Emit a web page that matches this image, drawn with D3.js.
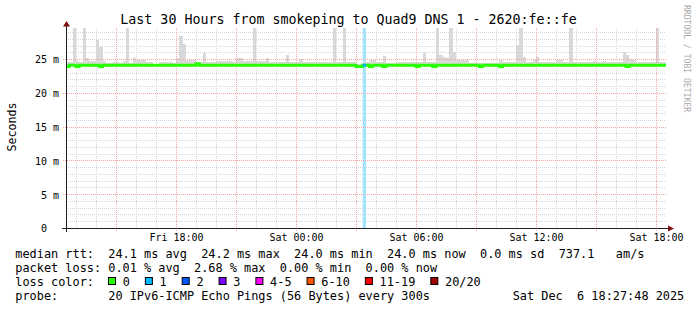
<!DOCTYPE html>
<html><head><meta charset="utf-8">
<script src="https://cdn.jsdelivr.net/npm/d3@7/dist/d3.min.js"></script>
<style>
html,body{margin:0;padding:0;background:#fff;}
svg{display:block;}
text{font-family:"DejaVu Sans Mono",monospace;white-space:pre;fill:#000;}
</style></head><body>
<svg id="chart" width="697" height="310"></svg>
<script>
// ---------- data ----------
const title = "Last 30 Hours from smokeping to Quad9 DNS 1 - 2620:fe::fe";
const yAxisTitle = "Seconds";
const watermark = "RRDTOOL / TOBI OETIKER";
const startUTC = [2025, 11, 5, 12, 30];   // Fri Dec 5 12:30
const endUTC   = [2025, 11, 6, 18, 30];   // Sat Dec 6 18:30
const stepMinutes = 10;
const yMaxMs = 29.6;
const yTickValues = [0, 5, 10, 15, 20, 25];
const yTickLabels = ["0  ", "5 m", "10 m", "15 m", "20 m", "25 m"];

// highest ping of each 10-minute step (ms); 30 = beyond the top of the graph
const smokeMax = [
  24.6,24.6,30,24.7,24.6,30,25.1,24.7,24.7,27.8,26.8,24.7,24.4,24.4,24.6,24.6,24.4,24.7,
  30,24.4,25.2,24.8,24.8,24.8,24.6,24.6,24.3,24.3,24.5,24.5,24.5,24.5,24.4,25.2,28.4,27.3,
  24.8,24.8,24.8,24.6,24.6,25.9,24.6,24.6,24.6,24.7,24.7,24.7,24.7,24.7,24.5,25.2,25.2,24.7,
  24.7,24.7,30,24.7,24.7,24.7,25.1,24.6,24.6,24.6,24.6,24.6,25.6,24.5,24.5,24.5,25.0,24.6,
  24.6,24.6,24.6,24.5,24.5,24.5,24.5,24.6,30,24.6,24.6,30,24.5,24.5,24.5,24.3,24.3,24.6,
  24.6,24.8,24.8,24.5,24.5,25.4,24.4,24.4,24.4,24.6,24.6,24.6,24.6,24.6,24.6,24.5,24.5,25.9,
  24.6,24.6,24.6,30,25.6,25.3,25.1,30,26.1,24.8,24.8,24.8,24.8,24.4,24.4,24.4,24.4,24.4,
  24.4,24.4,24.4,24.4,24.8,24.5,24.5,24.5,24.5,27.1,30,25.3,24.6,24.6,24.8,25.3,24.5,24.5,
  24.5,24.5,24.5,24.9,24.9,24.5,24.5,30,24.6,24.6,24.6,24.6,24.6,24.6,24.7,24.5,24.5,24.7,
  24.5,24.5,24.5,24.5,24.5,26.0,25.6,25.0,24.9,24.5,24.5,24.5,24.5,24.5,24.5,30,24.6,24.6
];
// median rtt of each 10-minute step (ms)
const median = [
  23.9,24.1,24.1,23.9,24.1,24.1,24.1,24.1,24.1,24.1,23.9,24.1,24.1,24.1,24.1,24.1,24.1,24.1,
  24.1,24.1,24.1,24.1,24.1,24.1,24.1,24.1,24.1,24.1,24.1,24.1,24.1,24.1,24.1,24.1,24.1,24.1,
  24.1,24.1,24.1,24.3,24.1,24.1,24.1,24.1,24.1,24.1,24.1,24.1,24.1,24.1,24.1,24.1,24.1,24.1,
  24.1,24.1,24.1,24.1,24.1,24.1,24.1,24.1,24.1,24.1,24.1,24.1,24.1,24.1,24.1,24.1,24.1,24.1,
  24.1,24.1,24.1,24.1,24.1,24.1,24.1,24.1,24.1,24.1,24.1,24.1,24.1,24.1,24.1,23.9,23.9,24.1,
  24.1,23.9,24.1,24.1,24.1,23.9,24.1,24.1,24.1,24.1,24.1,24.1,24.1,24.1,24.1,23.9,24.1,24.1,
  24.1,24.1,23.9,24.1,24.1,24.1,24.1,24.1,24.1,24.1,24.1,24.1,24.1,24.1,24.1,24.1,23.9,24.1,
  24.1,24.1,24.1,24.1,23.9,24.1,24.1,24.1,24.1,24.1,24.1,24.1,24.1,24.1,24.1,24.1,24.1,24.1,
  24.1,24.1,24.1,24.1,24.1,24.1,24.1,24.1,24.1,24.1,24.1,24.1,24.1,24.1,24.1,24.1,24.1,24.1,
  24.1,24.1,24.1,24.1,24.1,24.1,23.9,24.1,24.1,24.1,24.1,24.1,24.1,24.1,24.1,24.1,24.1,24.1
];
// steps with lost pings (step index, pings lost out of 20)
const lossSteps = [89];
const lossCounts = [1];

const lossLabels = ["0", "1", "2", "3", "4-5", "6-10", "11-19", "20/20"];
const lossUpper  = [0, 1, 2, 3, 5, 10, 19, 20];
const lossColors = ["#26ff00", "#00b8ff", "#0059ff", "#7e00ff", "#ff00ff", "#ff5500", "#ff0000", "#a10000"];

const legendLine1 = "median rtt:  24.1 ms avg  24.2 ms max  24.0 ms min  24.0 ms now  0.0 ms sd  737.1   am/s";
const legendLine2 = "packet loss: 0.01 % avg  2.68 % max  0.00 % min  0.00 % now";
const legendLine3 = "loss color:";
const legendLine4 = "probe:       20 IPv6-ICMP Echo Pings (56 Bytes) every 300s";
const dateStamp = "Sat Dec  6 18:27:48 2025";

// ---------- layout ----------
const X0 = 66, X1 = 666, Y0 = 228, Y1 = 28;
const svg = d3.select("#chart");
svg.append("rect").attr("width", 697).attr("height", 310).attr("fill", "#fff");

const t0 = new Date(Date.UTC(...startUTC));
const t1 = new Date(Date.UTC(...endUTC));
const x = d3.scaleUtc().domain([t0, t1]).range([X0, X1]);
const y = d3.scaleLinear().domain([0, yMaxMs]).range([Y0, Y1]).clamp(true);
const stepT = i => new Date(t0.getTime() + i * stepMinutes * 60000);
const px = v => Math.round(v) + 0.5;

const lossIndex = n => lossUpper.findIndex(u => n <= u);

// loss background bars
const gLoss = svg.append("g");
lossSteps.forEach((s, j) => {
  gLoss.append("rect")
    .attr("x", x(stepT(s))).attr("width", x(stepT(s + 1)) - x(stepT(s)))
    .attr("y", Y1).attr("height", Y0 - Y1)
    .attr("fill", lossColors[lossIndex(lossCounts[j])]).attr("fill-opacity", 0.36);
});

// smoke
const pts = smokeMax.map((v, i) => ({t: stepT(i), hi: v, med: median[i]}));
pts.push({t: stepT(smokeMax.length), hi: smokeMax[smokeMax.length - 1], med: median[median.length - 1]});
svg.append("path").datum(pts)
  .attr("d", d3.area().curve(d3.curveStepAfter).x(d => x(d.t)).y0(d => y(d.med)).y1(d => y(d.hi)))
  .attr("fill", "#d9d9d9").attr("shape-rendering", "crispEdges");

// grid
const gGrid = svg.append("g").attr("stroke-width", 1).attr("stroke-dasharray", "1,1").attr("fill", "none");
y.ticks(30).filter(v => v > 0 && v % 5 !== 0).forEach(v => {
  gGrid.append("line").attr("x1", X0).attr("x2", X1).attr("y1", px(y(v))).attr("y2", px(y(v))).attr("stroke", "#d6d6d6");
});
x.ticks(d3.utcHour.every(1)).filter(d => d.getUTCHours() % 3 !== 0).forEach(d => {
  gGrid.append("line").attr("y1", Y1).attr("y2", Y0).attr("x1", px(x(d))).attr("x2", px(x(d))).attr("stroke", "#d6d6d6");
});
yTickValues.filter(v => v > 0).forEach(v => {
  gGrid.append("line").attr("x1", X0 - 3).attr("x2", X1).attr("y1", px(y(v))).attr("y2", px(y(v))).attr("stroke", "#f2a4a4");
});
x.ticks(d3.utcHour.every(3)).forEach(d => {
  gGrid.append("line").attr("y1", Y1).attr("y2", Y0 + 3).attr("x1", px(x(d))).attr("x2", px(x(d))).attr("stroke", "#f2a4a4");
});

// median line
svg.append("path").datum(pts)
  .attr("d", d3.line().curve(d3.curveStepAfter).x(d => x(d.t)).y(d => y(d.med)))
  .attr("fill", "none").attr("stroke", lossColors[0]).attr("stroke-width", 3);
lossSteps.forEach((s, j) => {
  svg.append("line")
    .attr("x1", x(stepT(s))).attr("x2", x(stepT(s + 1)))
    .attr("y1", y(median[s])).attr("y2", y(median[s]))
    .attr("stroke", lossColors[lossIndex(lossCounts[j])]).attr("stroke-width", 3);
});

// axes lines and arrows
svg.append("line").attr("x1", 62).attr("x2", 669).attr("y1", Y0 + 0.5).attr("y2", Y0 + 0.5).attr("stroke", "#202020");
svg.append("line").attr("x1", X0 + 0.5).attr("x2", X0 + 0.5).attr("y1", Y0 + 4).attr("y2", 25).attr("stroke", "#202020");
svg.append("path").attr("d", `M${X0 - 3},26.5L${X0 + 0.5},21L${X0 + 4},26.5Z`).attr("fill", "#801010");
svg.append("path").attr("d", `M668,${Y0 - 2.5}L674,${Y0 + 0.5}L668,${Y0 + 3.5}Z`).attr("fill", "#801010");

// x axis labels
const xAxis = d3.axisBottom(x).ticks(d3.utcHour.every(6)).tickFormat(d3.utcFormat("%a %H:%M")).tickSize(0);
const gx = svg.append("g").attr("transform", `translate(0,${Y0})`).call(xAxis);
gx.select(".domain").remove();
gx.selectAll("text").attr("y", 13).attr("dy", 0).attr("font-size", 10)
  .attr("font-family", "DejaVu Sans Mono").attr("fill", "#000");

// y axis labels
const yAxis = d3.axisLeft(y).tickValues(yTickValues).tickFormat((d, i) => yTickLabels[i]).tickSize(0).tickPadding(0);
const gy = svg.append("g").attr("transform", "translate(59,0)").call(yAxis);
gy.select(".domain").remove();
gy.selectAll("text").attr("x", 0).attr("dy", "0.38em").attr("font-size", 10)
  .attr("font-family", "DejaVu Sans Mono").attr("fill", "#000").style("white-space", "pre");

// title, axis title, watermark
svg.append("text").attr("x", 348.5).attr("y", 24).attr("text-anchor", "middle")
  .attr("font-size", 13.3).text(title);
svg.append("text").attr("transform", "translate(15.5,127) rotate(-90)").attr("text-anchor", "middle")
  .attr("font-size", 11.6).text(yAxisTitle);
svg.append("text").attr("transform", "translate(684,5) rotate(90)").attr("text-anchor", "start")
  .attr("font-size", 8.1).style("fill", "#aaaaaa").text(watermark);

// legend
const LF = 11.88, CW = LF * 0.602, LX = 15.3;
svg.append("text").attr("x", LX).attr("y", 258).attr("font-size", LF).text(legendLine1);
svg.append("text").attr("x", LX).attr("y", 272).attr("font-size", LF).text(legendLine2);
svg.append("text").attr("x", LX).attr("y", 286).attr("font-size", LF).text(legendLine3);
svg.append("text").attr("x", LX).attr("y", 300).attr("font-size", LF).text(legendLine4);
svg.append("text").attr("x", 512.7).attr("y", 300).attr("font-size", LF).text(dateStamp);

let cur = 108;
lossLabels.forEach((lab, i) => {
  svg.append("rect").attr("x", cur + 0.5).attr("y", 277.5).attr("width", 7).attr("height", 7)
    .attr("fill", lossColors[i]).attr("stroke", "#000").attr("stroke-width", 1);
  svg.append("text").attr("x", cur + 14.7).attr("y", 286).attr("font-size", LF).text(lab);
  cur = cur + 14.7 + lab.length * CW + 15;
});
</script>
</body></html>
